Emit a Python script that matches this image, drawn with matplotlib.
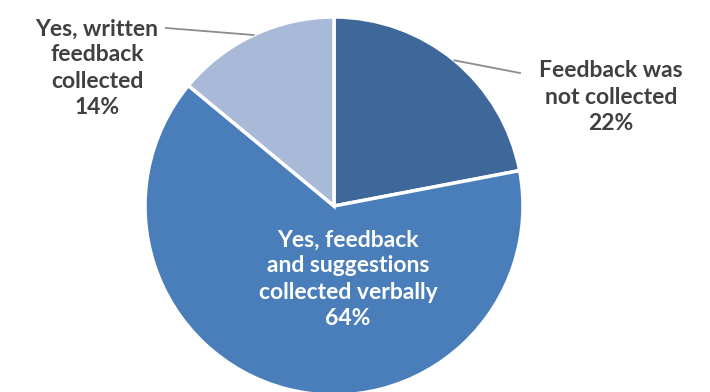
import numpy as np
import matplotlib.pyplot as plt

# Feedback collection shares
labels = ['Feedback was\nnot collected', 'Yes, feedback\nand suggestions\ncollected verbally', 'Yes, written\nfeedback\ncollected']
shares = [22, 64, 14]
colors = ['#3E6899', '#4A7EBB', '#A9B9D8']

plt.rcParams['font.family'] = ['Lato', 'DejaVu Sans']

fig = plt.figure(figsize=(7.1, 3.92), dpi=100)
ax = fig.add_axes([0, 0, 1, 1])

cx, cy, r = 334, 186, 189
wedges, _ = ax.pie(shares, colors=colors, startangle=90, counterclock=False,
                   center=(cx, cy), radius=r, frame=True,
                   wedgeprops=dict(edgecolor='white', linewidth=2.5))
ax.set_xlim(0, 710)
ax.set_ylim(0, 392)
ax.set_aspect('equal')
ax.axis('off')

txt = dict(fontsize=16.5, fontweight='bold', ha='center', va='center', linespacing=1.3)

# outside labels with leader lines from the slice midpoints
def edge_point(w):
    a = np.deg2rad((w.theta1 + w.theta2) / 2)
    return cx + r * np.cos(a), cy + r * np.sin(a)

x0, y0 = edge_point(wedges[0])
ax.plot([x0, 520], [y0, 392 - 73], color='#8C8C8C', lw=1.3)
ax.text(611, 392 - 97, f'{labels[0]}\n{shares[0]}%', color='#404040', **txt)

x2, y2 = edge_point(wedges[2])
ax.plot([x2, 166], [y2, 392 - 28], color='#8C8C8C', lw=1.3)
ax.text(97, 392 - 68, f'{labels[2]}\n{shares[2]}%', color='#404040', **txt)

ax.text(348, 392 - 279, f'{labels[1]}\n{shares[1]}%', color='white', **txt)

fig.savefig('out.png', dpi=100)
